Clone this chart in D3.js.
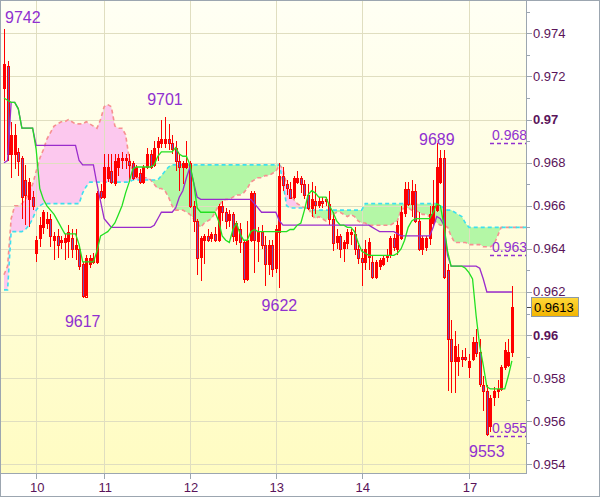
<!DOCTYPE html>
<html>
<head>
<meta charset="utf-8">
<script src="https://cdn.jsdelivr.net/npm/d3@7"></script>
<style>
body { margin: 0; background: #fff; }
svg { display: block; font-family: "Liberation Sans", Arial, sans-serif; }
</style>
</head>
<body>
<script>
// hourly candles, prices in pips (9742 -> 0.9742)
var open = [9715,9725,9684,9684,9685,9682,9672,9663,9664,9638,
9645,9650,9652,9654,9644,9646,9643,9643,9644,9645,
9640,9640,9633,9618,9633,9634,9634,9667,9664,9673,
9676,9671,9678,9681,9681,9681,9680,9674,9675,9671,
9678,9684,9679,9687,9689,9689,9691,9689,9687,9681,
9678,9678,9680,9660,9653,9636,9644,9646,9645,9647,
9644,9660,9657,9653,9656,9644,9649,9643,9626,9644,
9666,9644,9648,9642,9633,9642,9631,9648,9674,9670,
9668,9664,9671,9673,9670,9665,9659,9662,9660,9662,
9662,9661,9654,9643,9646,9640,9643,9647,9647,9640,
9636,9634,9636,9634,9627,9632,9633,9636,9637,9645,
9640,9645,9657,9668,9661,9667,9653,9640,9641,9645,
9652,9658,9671,9682,9630,9598,9588,9588,9590,9590,
9585,9589,9597,9592,9577,9574,9558,9571,9574,9575,
9585,9586,9592];
var high = [9742,9727,9699,9698,9687,9683,9679,9673,9667,9646,
9655,9658,9657,9656,9648,9649,9646,9647,9651,9649,
9649,9641,9634,9637,9637,9638,9667,9670,9684,9684,
9684,9684,9684,9685,9684,9684,9681,9679,9677,9679,
9687,9686,9690,9692,9700,9701,9698,9693,9690,9684,
9681,9690,9681,9662,9654,9646,9647,9649,9648,9650,
9661,9662,9659,9658,9657,9653,9652,9644,9653,9667,
9667,9650,9651,9646,9644,9644,9651,9680,9678,9672,
9671,9674,9676,9674,9672,9670,9671,9669,9664,9664,
9664,9667,9657,9649,9647,9644,9649,9649,9650,9642,
9640,9644,9645,9637,9635,9636,9637,9640,9646,9647,
9653,9660,9671,9671,9672,9670,9657,9646,9646,9660,
9672,9689,9686,9686,9633,9607,9602,9596,9593,9594,
9591,9599,9603,9598,9581,9577,9572,9576,9579,9586,
9597,9598,9623];
var low = [9681,9681,9673,9677,9674,9654,9651,9650,9658,9634,
9641,9647,9649,9641,9635,9636,9640,9635,9636,9636,
9635,9630,9617,9618,9631,9633,9633,9663,9663,9671,
9670,9669,9674,9677,9677,9671,9672,9673,9670,9670,
9677,9677,9678,9681,9687,9687,9686,9684,9676,9667,
9670,9677,9659,9648,9628,9625,9633,9643,9643,9643,
9643,9653,9649,9650,9643,9642,9638,9624,9625,9643,
9629,9634,9640,9623,9628,9627,9629,9622,9667,9665,
9663,9663,9670,9666,9663,9658,9655,9656,9659,9659,
9660,9651,9639,9640,9636,9634,9640,9642,9637,9633,
9623,9630,9630,9626,9626,9630,9632,9634,9636,9639,
9637,9644,9655,9660,9655,9652,9639,9637,9639,9642,
9650,9657,9670,9626,9574,9573,9573,9581,9585,9588,
9580,9588,9590,9576,9565,9553,9555,9567,9571,9574,
9584,9585,9590];
var close = [9726,9684,9693,9693,9681,9664,9665,9671,9660,9644,
9651,9657,9654,9646,9646,9642,9644,9645,9648,9640,
9642,9632,9618,9636,9636,9636,9666,9664,9678,9678,
9671,9681,9682,9682,9682,9679,9673,9678,9671,9678,
9684,9678,9687,9690,9691,9691,9689,9686,9681,9678,
9680,9680,9660,9653,9636,9645,9646,9644,9647,9644,
9660,9657,9653,9656,9646,9652,9643,9626,9644,9666,
9644,9648,9642,9633,9642,9631,9649,9674,9670,9668,
9664,9673,9673,9670,9665,9659,9663,9660,9662,9661,
9663,9654,9643,9646,9640,9643,9648,9648,9640,9636,
9634,9640,9643,9627,9634,9635,9636,9637,9645,9641,
9651,9657,9668,9661,9667,9653,9640,9645,9645,9656,
9660,9678,9682,9627,9598,9588,9595,9590,9589,9589,
9588,9597,9592,9577,9574,9554,9571,9574,9575,9585,
9593,9592,9613];

// tenkan-sen (green) and kijun-sen (purple)
var tenkan = [9710,9709,9708,9708,9705,9696,9696,9696,9696,9686,
9668,9663,9660,9658,9656,9653,9650,9647,9647,9647,
9647,9642,9634,9634,9634,9634,9639,9646,9647,9648,
9650,9652,9656,9660,9666,9671,9677,9678,9678,9678,
9678,9678,9679,9683,9685,9685,9685,9685,9687,9684,
9683,9683,9679,9671,9659,9657,9657,9657,9657,9657,
9653,9646,9644,9643,9649,9652,9647,9644,9644,9648,
9649,9648,9648,9648,9648,9648,9648,9648,9648,9648,
9649,9649,9651,9652,9658,9665,9667,9666,9664,9664,
9664,9660,9657,9653,9651,9651,9650,9650,9648,9643,
9639,9638,9637,9637,9637,9637,9637,9637,9637,9637,
9638,9640,9644,9650,9653,9654,9654,9654,9654,9654,
9657,9661,9660,9651,9639,9632,9632,9632,9632,9631,
9629,9626,9609,9595,9586,9576,9575,9575,9575,9575,
9575,9581,9588];
var kijun = [9680,9681,9708,9708,9705,9696,9696,9696,9696,9688,
9688,9688,9688,9688,9688,9688,9688,9688,9688,9688,
9688,9681,9679,9679,9679,9679,9670,9662,9654,9652,
9650,9650,9650,9650,9650,9650,9650,9650,9650,9650,
9650,9650,9651,9654,9657,9657,9657,9657,9659,9664,
9667,9673,9678,9671,9664,9663,9663,9663,9663,9663,
9663,9663,9663,9663,9663,9663,9663,9663,9663,9663,
9661,9659,9657,9657,9657,9657,9657,9653,9651,9651,
9651,9651,9651,9651,9651,9651,9651,9651,9651,9651,
9651,9651,9651,9651,9651,9651,9651,9651,9651,9651,
9651,9651,9651,9650,9649,9648,9648,9648,9648,9648,
9647,9646,9646,9646,9646,9646,9646,9646,9646,9646,
9650,9655,9654,9651,9637,9632,9632,9632,9632,9632,
9632,9632,9632,9631,9626,9620,9620,9620,9620,9620,
9620,9620,9620];

// senkou spans, they run 4 bars past the last candle
var spanA = [9621,9621,9648,9648,9648,9648,9649,9651,9654,9658,
9660,9661,9661,9661,9661,9661,9661,9661,9661,9661,
9661,9661,9666,9669,9671,9671,9671,9671,9671,9671,
9671,9671,9671,9671,9671,9671,9672,9672,9672,9672,
9672,9672,9672,9672,9674,9676,9678,9679,9679,9679,
9679,9679,9679,9679,9679,9679,9679,9679,9679,9679,
9679,9679,9679,9679,9679,9679,9679,9679,9679,9679,
9679,9679,9679,9679,9679,9679,9679,9679,9671,9660,
9659,9659,9659,9659,9659,9659,9658,9658,9658,9658,
9658,9658,9658,9658,9658,9658,9658,9658,9658,9658,
9658,9661,9661,9661,9661,9661,9661,9661,9661,9661,
9661,9661,9661,9661,9661,9661,9661,9661,9661,9661,
9661,9661,9660,9659,9658,9658,9657,9656,9655,9652,
9650,9650,9650,9650,9650,9650,9650,9650,9650,9650,
9650,9650,9650,9650,9650,9650,9650];
var spanB = [9628,9632,9654,9660,9660,9661,9663,9666,9670,9676,
9682,9686,9691,9694,9697,9698,9699,9699,9700,9699,
9698,9698,9698,9699,9698,9697,9696,9700,9706,9707,
9706,9697,9696,9696,9693,9682,9674,9673,9673,9673,
9673,9672,9670,9668,9668,9667,9664,9660,9658,9658,
9658,9657,9656,9654,9652,9650,9652,9653,9654,9657,
9660,9662,9663,9663,9664,9665,9665,9666,9668,9671,
9672,9673,9673,9674,9674,9675,9676,9679,9677,9670,
9666,9663,9661,9660,9659,9659,9656,9654,9655,9654,
9653,9655,9656,9657,9657,9656,9655,9656,9655,9653,
9652,9652,9651,9651,9651,9651,9651,9651,9651,9652,
9653,9658,9659,9659,9658,9658,9657,9656,9656,9655,
9654,9652,9651,9651,9650,9646,9643,9643,9643,9643,
9642,9642,9642,9642,9641,9641,9641,9642,9646,9650,
9650,9650,9650,9650,9650,9650,9650];

var dayIdx = [9, 28, 52, 76, 100, 130];
var dayLabels = ["10", "11", "12", "13", "14", "17"];
var yTicks = d3.range(9540, 9751, 10);
var peaks = [{ i: 0, hi: true }, { i: 22, hi: false }, { i: 45, hi: true },
             { i: 77, hi: false }, { i: 121, hi: true }, { i: 135, hi: false }];
var levels = [9689, 9637, 9553];
var lastPrice = close[close.length - 1];

// layout
var W = 600, H = 497, plotR = 526, plotB = 473;
var axisCol = "#9ca6b0", textCol = "#5a145a", peakCol = "#9030d0";
var peakDy = [-6, 29, -12, 23, 2, 21]; // baseline offset of each extreme label

var x = d3.scaleLinear().domain([0, 142]).range([4, 511.9]);
var y = d3.scaleLinear().domain([9536, 9755.5]).range([plotB, 0]);
var px = function(v) { return Math.round(v) + 0.5; };

var svg = d3.select("body").append("svg").attr("width", W).attr("height", H);
var defs = svg.append("defs");

var grad = defs.append("linearGradient").attr("id", "bg")
  .attr("x1", 0).attr("y1", 0).attr("x2", 0).attr("y2", 1);
grad.append("stop").attr("offset", "0%").attr("stop-color", "#fffff4");
grad.append("stop").attr("offset", "100%").attr("stop-color", "#fffcc2");

var tag = defs.append("linearGradient").attr("id", "tag")
  .attr("x1", 0).attr("y1", 0).attr("x2", 0).attr("y2", 1);
tag.append("stop").attr("offset", "0%").attr("stop-color", "#ffd83a");
tag.append("stop").attr("offset", "100%").attr("stop-color", "#f2b400");

defs.append("clipPath").attr("id", "plot")
  .append("rect").attr("width", plotR).attr("height", plotB);

// background
svg.append("rect").attr("width", W).attr("height", H).attr("fill", "#fff");
svg.append("rect").attr("width", plotR).attr("height", plotB).attr("fill", "url(#bg)");

var plot = svg.append("g").attr("clip-path", "url(#plot)");

// cloud: fill split at the spanB line
var idx = d3.range(spanA.length);
defs.append("clipPath").attr("id", "aboveB").append("path")
  .attr("d", d3.area().x(function(i) { return x(i); }).y0(0)
    .y1(function(i) { return y(spanB[i]); })(idx));
defs.append("clipPath").attr("id", "belowB").append("path")
  .attr("d", d3.area().x(function(i) { return x(i); }).y0(plotB)
    .y1(function(i) { return y(spanB[i]); })(idx));
var between = d3.area().x(function(i) { return x(i); })
  .y0(function(i) { return y(spanA[i]); })
  .y1(function(i) { return y(spanB[i]); });
plot.append("g").attr("clip-path", "url(#aboveB)")
  .append("path").attr("d", between(idx)).attr("fill", "#b4f7a6");
plot.append("g").attr("clip-path", "url(#belowB)")
  .append("path").attr("d", between(idx)).attr("fill", "#fcc8ee");

// grid
plot.selectAll("line.hg").data(yTicks.filter(function(t) { return t % 20 === 0; }))
  .enter().append("line")
  .attr("x1", 0).attr("x2", plotR)
  .attr("y1", function(d) { return px(y(d)); }).attr("y2", function(d) { return px(y(d)); })
  .attr("stroke", "#e0dec0");
plot.selectAll("line.vg").data(dayIdx).enter().append("line")
  .attr("y1", 0).attr("y2", plotB)
  .attr("x1", function(d) { return px(x(d)); }).attr("x2", function(d) { return px(x(d)); })
  .attr("stroke", "#e0dec0");

// span borders
var spanLine = function(arr) {
  return d3.line().x(function(i) { return x(i); }).y(function(i) { return y(arr[i]); })(idx);
};
plot.append("path").attr("d", spanLine(spanB)).attr("fill", "none")
  .attr("stroke", "#f79090").attr("stroke-width", 1.6).attr("stroke-dasharray", "4,3");
plot.append("path").attr("d", spanLine(spanA)).attr("fill", "none")
  .attr("stroke", "#3ee0ee").attr("stroke-width", 1.6).attr("stroke-dasharray", "4,3");

// candles
var cidx = d3.range(open.length);
var candle = plot.selectAll("g.candle").data(cidx).enter().append("g");
candle.append("line")
  .attr("x1", function(i) { return px(x(i)); }).attr("x2", function(i) { return px(x(i)); })
  .attr("y1", function(i) { return Math.round(y(high[i])); })
  .attr("y2", function(i) { return Math.round(y(low[i])); })
  .attr("stroke", "#ff0000");
candle.append("rect")
  .attr("x", function(i) { return Math.round(x(i)) - 0.5; })
  .attr("width", 2)
  .attr("y", function(i) { return px(y(Math.max(open[i], close[i]))); })
  .attr("height", function(i) {
    return Math.max(1, Math.round(y(Math.min(open[i], close[i])) - y(Math.max(open[i], close[i]))));
  })
  .attr("fill", function(i) { return close[i] < open[i] ? "#7650b4" : "none"; })
  .attr("stroke", "#ff0000");

// tenkan / kijun
var lineOf = function(arr) {
  return d3.line().x(function(d, i) { return x(i); }).y(function(d) { return y(d); })(arr);
};
plot.append("path").attr("d", lineOf(kijun)).attr("fill", "none")
  .attr("stroke", "#9a2ccc").attr("stroke-width", 1.3);
plot.append("path").attr("d", lineOf(tenkan)).attr("fill", "none")
  .attr("stroke", "#22e022").attr("stroke-width", 1.3);

// level markers at the right edge
var lv = plot.selectAll("g.level").data(levels).enter().append("g");
lv.append("line").attr("x1", plotR - 36).attr("x2", plotR)
  .attr("y1", function(d) { return px(y(d)); }).attr("y2", function(d) { return px(y(d)); })
  .attr("stroke", peakCol).attr("stroke-width", 1.5).attr("stroke-dasharray", "4,3");
lv.append("text").attr("x", plotR - 34).attr("y", function(d) { return y(d) - 3; })
  .attr("font-size", 14).attr("fill", peakCol)
  .text(function(d) { return (d / 10000).toFixed(4); });

// extreme labels
var pk = svg.selectAll("text.peak").data(peaks).enter().append("text")
  .attr("font-size", 16).attr("fill", peakCol).attr("text-anchor", "middle")
  .text(function(d) { return d.hi ? high[d.i] : low[d.i]; })
  .attr("y", function(d, k) { return y(d.hi ? high[d.i] : low[d.i]) + peakDy[k]; });
pk.attr("x", function(d) {
  var w = this.getComputedTextLength();
  return Math.max(5 + w / 2, Math.min(plotR - 5 - w / 2, x(d.i)));
});

// axes
svg.append("line").attr("x1", px(plotR)).attr("x2", px(plotR)).attr("y1", 0).attr("y2", plotB + 1)
  .attr("stroke", axisCol);
svg.append("line").attr("x1", 0).attr("x2", plotR + 1).attr("y1", px(plotB)).attr("y2", px(plotB))
  .attr("stroke", axisCol);

svg.selectAll("line.yt").data(yTicks).enter().append("line")
  .attr("x1", plotR + 1).attr("x2", function(d) { return d % 20 === 0 ? plotR + 6 : plotR + 4; })
  .attr("y1", function(d) { return px(y(d)); }).attr("y2", function(d) { return px(y(d)); })
  .attr("stroke", axisCol);
svg.selectAll("text.yl").data(yTicks.filter(function(t) { return t % 20 === 0; }))
  .enter().append("text")
  .attr("x", plotR + 7).attr("y", function(d) { return y(d) + 4.5; })
  .attr("font-size", 13).attr("fill", textCol)
  .attr("font-weight", function(d) { return d % 100 === 0 ? "bold" : "normal"; })
  .text(function(d) { return String(d / 10000); });

svg.selectAll("line.xt").data(dayIdx).enter().append("line")
  .attr("x1", function(d) { return px(x(d)); }).attr("x2", function(d) { return px(x(d)); })
  .attr("y1", plotB + 1).attr("y2", plotB + 6).attr("stroke", axisCol);
svg.selectAll("text.xl").data(dayIdx).enter().append("text")
  .attr("x", function(d) { return x(d) + 1; }).attr("y", 492)
  .attr("text-anchor", "middle").attr("font-size", 13).attr("fill", textCol)
  .text(function(d, i) { return dayLabels[i]; });

// last price tag
var ly = y(lastPrice);
svg.append("line").attr("x1", plotR + 1).attr("x2", plotR + 6)
  .attr("y1", px(ly)).attr("y2", px(ly)).attr("stroke", "#444");
svg.append("rect").attr("x", plotR + 5.5).attr("y", Math.round(ly) - 9.5)
  .attr("width", 47).attr("height", 19)
  .attr("fill", "url(#tag)").attr("stroke", "#8c9aa8");
svg.append("text").attr("x", plotR + 8).attr("y", ly + 5)
  .attr("font-size", 13).attr("fill", "#000").text((lastPrice / 10000).toFixed(4));

// frame
svg.append("rect").attr("x", 0.5).attr("y", 0.5).attr("width", W - 1).attr("height", H - 1)
  .attr("fill", "none").attr("stroke", axisCol);
</script>
</body>
</html>
